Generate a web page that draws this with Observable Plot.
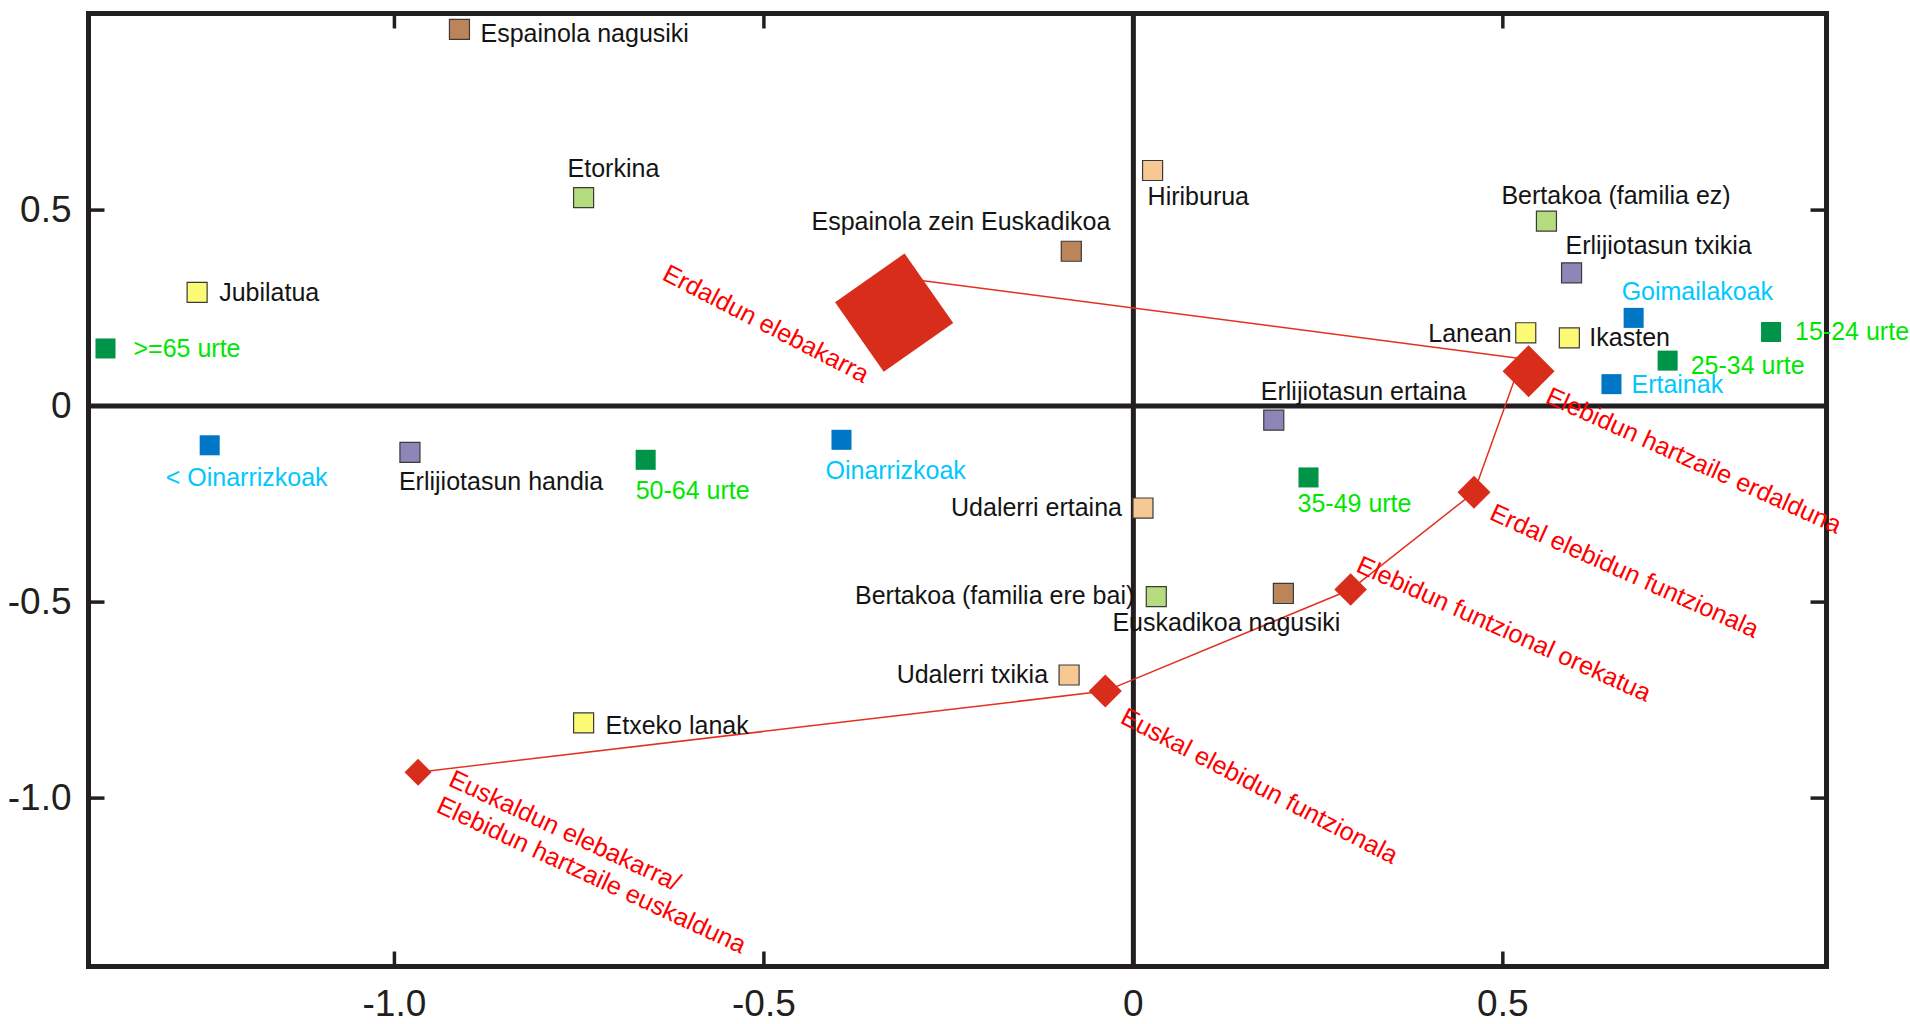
<!DOCTYPE html>
<html>
<head>
<meta charset="utf-8">
<script src="https://cdn.jsdelivr.net/npm/d3@7"></script>
<script src="https://cdn.jsdelivr.net/npm/@observablehq/plot@0.6"></script>
<style>
  html, body { margin: 0; padding: 0; background: #ffffff; }
  #chart svg { display: block; }
</style>
</head>
<body>
<div id="chart"></div>
<script>
// ---------- axis limits and ticks ----------
const xDomain = [-1.414, 0.938];
const yDomain = [-1.4296, 1.0015];
const xTicks = [-1.0, -0.5, 0, 0.5];
const yTicks = [-1.0, -0.5, 0, 0.5];

// ---------- category points (squares) ----------
const catNames = [
  "Espainola nagusiki", "Espainola zein Euskadikoa", "Euskadikoa nagusiki",
  "Etorkina", "Bertakoa (familia ez)", "Bertakoa (familia ere bai)",
  "Jubilatua", "Lanean", "Ikasten", "Etxeko lanak",
  ">=65 urte", "50-64 urte", "35-49 urte", "25-34 urte", "15-24 urte",
  "Hiriburua", "Udalerri ertaina", "Udalerri txikia",
  "Erlijiotasun txikia", "Erlijiotasun ertaina", "Erlijiotasun handia",
  "Goimailakoak", "Ertainak", "Oinarrizkoak", "< Oinarrizkoak"
];
const catX = [
  -0.912, -0.084, 0.203,
  -0.744, 0.559, 0.031,
  -1.267, 0.531, 0.590, -0.744,
  -1.391, -0.660, 0.237, 0.723, 0.863,
  0.026, 0.013, -0.087,
  0.593, 0.190, -0.979,
  0.677, 0.647, -0.395, -1.250
];
const catY = [
  0.961, 0.395, -0.478,
  0.532, 0.472, -0.486,
  0.290, 0.187, 0.174, -0.808,
  0.147, -0.137, -0.182, 0.116, 0.189,
  0.601, -0.260, -0.686,
  0.340, -0.036, -0.118,
  0.225, 0.056, -0.086, -0.100
];
const catGroup = [
  "origin", "origin", "origin",
  "birth", "birth", "birth",
  "activity", "activity", "activity", "activity",
  "age", "age", "age", "age", "age",
  "town", "town", "town",
  "religion", "religion", "religion",
  "education", "education", "education", "education"
];

// ---------- language profiles (red diamonds, joined by a line) ----------
const profNames = [
  "Erdaldun elebakarra",
  "Elebidun hartzaile erdalduna",
  "Erdal elebidun funtzionala",
  "Elebidun funtzional orekatua",
  "Euskal elebidun funtzionala",
  "Euskaldun elebakarra/\nElebidun hartzaile euskalduna"
];
const profX = [-0.342, 0.526, 0.461, 0.294, -0.038, -0.968];
const profY = [0.334, 0.121, -0.220, -0.468, -0.727, -0.934];
const profSize = [48, 9.0, 3.63, 3.54, 3.63, 2.43];   // relative symbol weight

// ---------- tables ----------
const points = catNames.map((name, i) => ({name, x: catX[i], y: catY[i], group: catGroup[i]}));
const profiles = profNames.map((name, i) => ({name, x: profX[i], y: profY[i], size: profSize[i]}));

// ---------- styles (kept apart from the data) ----------
const ink = "#231f20";
const font = "'Liberation Sans', Arial, Helvetica, sans-serif";
const fillOf = {
  origin: "#bc8459", birth: "#b6dc80", activity: "#fdfb76", age: "#009448",
  town: "#f6c893", religion: "#8f86b8", education: "#0077c6"
};
const outlined = new Set(["origin", "birth", "activity", "town", "religion"]);
const textColorOf = g => g === "age" ? "#00e600" : g === "education" ? "#00c8ff" : "#141414";

// label placement: [anchor, dx, dy]
const labelLayout = {
  "Espainola nagusiki": ["start", 21, 5],
  "Espainola zein Euskadikoa": ["end", 39, -29],
  "Euskadikoa nagusiki": ["middle", -57, 30],
  "Etorkina": ["start", -16, -29],
  "Bertakoa (familia ez)": ["start", -45, -25],
  "Bertakoa (familia ere bai)": ["end", -22, -1],
  "Jubilatua": ["start", 22, 1],
  "Lanean": ["end", -14, 1],
  "Ikasten": ["start", 20, 0],
  "Etxeko lanak": ["start", 22, 3],
  ">=65 urte": ["start", 28, 1],
  "50-64 urte": ["start", -10, 31],
  "35-49 urte": ["start", -11, 27],
  "25-34 urte": ["start", 23, 5],
  "15-24 urte": ["start", 24, 0],
  "Hiriburua": ["start", -5, 27],
  "Udalerri ertaina": ["end", -21, 0],
  "Udalerri txikia": ["end", -21, 0],
  "Erlijiotasun txikia": ["start", -6, -27],
  "Erlijiotasun ertaina": ["start", -13, -28],
  "Erlijiotasun handia": ["start", -11, 30],
  "Goimailakoak": ["start", -12, -26],
  "Ertainak": ["start", 20, 1],
  "Oinarrizkoak": ["start", -16, 31],
  "< Oinarrizkoak": ["middle", 37, 33]
};
// profile marker/label placement
const profLayout = [
  {mdx: 13.5, mdy: 37.4, turn: 10, dx: -13, dy: 100, anchor: "end", rotate: 27.3},
  {mdx: 6.5, mdy: 12.5, turn: 0, dx: 26, dy: 35, anchor: "start", rotate: 24.3},
  {mdx: 0, mdy: 0, turn: 0, dx: 18, dy: 18, anchor: "start", rotate: 24.2},
  {mdx: 0, mdy: 0, turn: 0, dx: 8, dy: -27, anchor: "start", rotate: 24.2},
  {mdx: 0, mdy: 0, turn: 0, dx: 18, dy: 23, anchor: "start", rotate: 27.5},
  {mdx: 0, mdy: 0, turn: 0, dx: 27, dy: 17.5, anchor: "start", rotate: 25}
];

// custom symbols
function rotSquare(deg) {
  return {
    draw(ctx, size) {
      const r = Math.sqrt(size / Math.PI);
      const a = deg * Math.PI / 180;
      for (let k = 0; k < 4; k++) {
        const t = a - Math.PI / 2 + k * Math.PI / 2;
        const px = r * Math.cos(t), py = r * Math.sin(t);
        if (k === 0) ctx.moveTo(px, py); else ctx.lineTo(px, py);
      }
      ctx.closePath();
    }
  };
}
const seg = (x1, y1, x2, y2) => ({draw(ctx) { ctx.moveTo(x1, y1); ctx.lineTo(x2, y2); }});
const fmt = d => d === 0 ? "0" : (d < 0 ? "-" : "") + Math.abs(d).toFixed(1);

// ---------- marks ----------
const marks = [];
marks.push(Plot.ruleX([0], {stroke: ink, strokeWidth: 5}));
marks.push(Plot.ruleY([0], {stroke: ink, strokeWidth: 5}));
// inward ticks on all four sides
const tickStyle = {fill: "none", stroke: ink, strokeWidth: 3.5};
marks.push(Plot.dot(yTicks, {x: () => xDomain[0], y: d => d, symbol: seg(0, 0, 16, 0), ...tickStyle}));
marks.push(Plot.dot(yTicks, {x: () => xDomain[1], y: d => d, symbol: seg(0, 0, -16, 0), ...tickStyle}));
marks.push(Plot.dot(xTicks.filter(d => d !== 0), {x: d => d, y: () => yDomain[1], symbol: seg(0, 0, 0, 15), ...tickStyle}));
marks.push(Plot.dot(xTicks.filter(d => d !== 0), {x: d => d, y: () => yDomain[0], symbol: seg(0, 0, 0, -15), ...tickStyle}));
marks.push(Plot.frame({stroke: ink, strokeWidth: 5}));
marks.push(Plot.axisX(xTicks, {anchor: "bottom", tickSize: 0, tickPadding: 23, fontSize: 37, fontFamily: font, tickFormat: fmt, fill: ink, label: null}));
marks.push(Plot.axisY(yTicks, {anchor: "left", tickSize: 0, tickPadding: 17, fontSize: 37, fontFamily: font, tickFormat: fmt, fill: ink, label: null}));

// profile line
marks.push(Plot.line(profiles, {x: "x", y: "y", stroke: "#e3301f", strokeWidth: 1.5}));

// category squares
marks.push(Plot.dot(points.filter(d => outlined.has(d.group)), {
  x: "x", y: "y", symbol: "square", r: 11.3,
  fill: d => fillOf[d.group], stroke: "#3a3a3a", strokeWidth: 1.2
}));
marks.push(Plot.dot(points.filter(d => !outlined.has(d.group)), {
  x: "x", y: "y", symbol: "square", r: 11.3,
  fill: d => fillOf[d.group]
}));

// category labels
points.forEach(p => {
  const [anchor, dx, dy] = labelLayout[p.name];
  marks.push(Plot.text([p], {
    x: "x", y: "y", text: "name", textAnchor: anchor, dx, dy,
    fill: textColorOf(p.group), fontSize: 25, fontFamily: font
  }));
});

// profile diamonds + labels
profiles.forEach((p, i) => {
  const L = profLayout[i];
  marks.push(Plot.dot([p], {
    x: "x", y: "y", r: "size", symbol: rotSquare(L.turn),
    fill: "#d92d1c", dx: L.mdx, dy: L.mdy
  }));
  marks.push(Plot.text([p], {
    x: "x", y: "y", text: "name", textAnchor: L.anchor, rotate: L.rotate,
    dx: L.dx, dy: L.dy, lineHeight: 1.15,
    fill: "#ff0000", fontSize: 25.3, fontFamily: font
  }));
});

const chart = Plot.plot({
  width: 1910,
  height: 1024,
  marginLeft: 88,
  marginRight: 84,
  marginTop: 13,
  marginBottom: 58,
  style: {background: "#ffffff", fontFamily: font},
  x: {domain: xDomain, label: null},
  y: {domain: yDomain, label: null},
  color: {type: "identity"},
  r: {type: "sqrt", domain: [0, 48], range: [0, 60]},
  marks
});
document.getElementById("chart").appendChild(chart);
</script>
</body>
</html>
